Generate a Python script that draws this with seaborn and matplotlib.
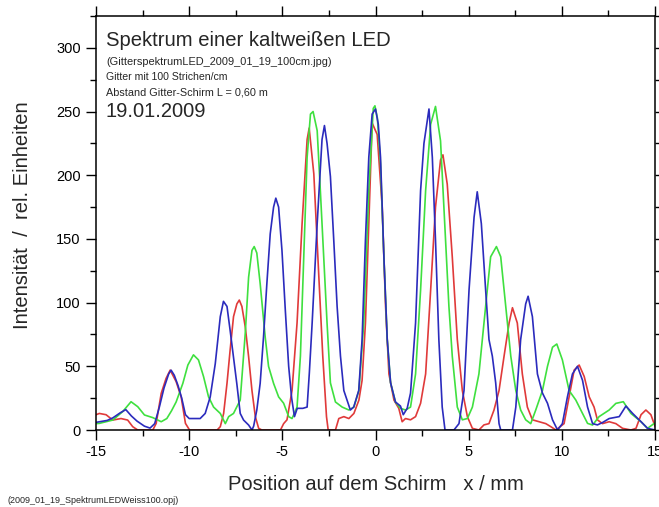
import matplotlib
matplotlib.use("Agg")
import matplotlib.pyplot as plt
from matplotlib.ticker import MultipleLocator
import seaborn as sns
import pandas as pd

# ---------------- data ----------------
blue_x = [-15.0, -14.8, -14.4, -14.1, -13.7, -13.4, -13.1, -12.8, -12.4, -12.1, -11.85, -11.6, -11.35,
          -11.1, -10.97, -10.8, -10.6, -10.4, -10.2, -10.0, -9.7, -9.41, -9.14, -8.87, -8.6, -8.33,
          -8.16, -7.97, -7.8, -7.62, -7.44, -7.26, -7.08, -6.81, -6.63, -6.54, -6.37, -6.19, -6.01,
          -5.83, -5.65, -5.47, -5.35, -5.2, -5.02, -4.84, -4.66, -4.5, -4.35, -4.2, -3.9, -3.67, -3.55,
          -3.40, -3.13, -2.87, -2.74, -2.6, -2.42, -2.24, -2.06, -1.88, -1.70, -1.52, -1.35, -1.17,
          -0.90, -0.72, -0.54, -0.36, -0.18, 0.0, 0.15, 0.27, 0.45, 0.63, 0.81, 1.07, 1.34, 1.49,
          1.70, 1.88, 2.15, 2.42, 2.60, 2.87, 3.05, 3.22, 3.40, 3.58, 3.73, 4.21, 4.48, 4.75, 5.02,
          5.29, 5.46, 5.68, 5.91, 6.09, 6.27, 6.45, 6.63, 6.72, 7.35, 7.53, 7.79, 8.06, 8.19, 8.42,
          8.69, 8.96, 9.23, 9.50, 9.77, 10.03, 10.30, 10.57, 10.84, 11.11, 11.38, 11.65, 11.91,
          12.2, 12.54, 13.08, 13.44, 13.8, 14.25, 14.6, 15.0]
blue_y = [6, 6.5, 7.5, 9.5, 13.5, 16, 11, 7, 3, 1.5, 5, 18, 33,
          44, 47, 43, 35, 25, 12, 9, 9, 9, 13, 26, 52, 89,
          101, 97, 78, 57, 36, 13, 7.8, 3.9, 0, 3, 15.7, 36.6, 73,
          115, 154, 175, 182, 175, 141, 94, 50, 25, 10.5, 17, 17, 18, 45,
          84, 162, 228, 239, 225, 199, 149, 97, 58, 31, 23, 15.7, 18,
          31, 71, 149, 214, 248, 252, 240, 214, 136, 71, 37, 22, 18.8, 12,
          17, 29, 84, 188, 225, 252, 214, 149, 71, 18, 0, 0, 5, 31, 110,
          167, 187, 162, 110, 71, 58, 37, 5, 0, 0, 18, 71, 99, 105, 89,
          44, 29, 21, 8, 0, 5, 26, 44, 50, 39, 18, 5, 4,
          6, 9, 10.5, 18.8, 13, 6.5, 1.3, 0]

green_x = [-15.0, -14.82, -14.1, -13.57, -13.12, -12.76, -12.4, -11.95, -11.5, -11.2, -10.95, -10.7,
           -10.34, -10.07, -9.77, -9.5, -9.23, -8.96, -8.69, -8.33, -8.06, -7.88, -7.62, -7.26, -6.99,
           -6.81, -6.63, -6.51, -6.37, -6.19, -5.92, -5.74, -5.47, -5.2, -4.93, -4.66, -4.48, -4.21,
           -4.03, -3.85, -3.67, -3.49, -3.35, -3.13, -2.96, -2.78, -2.6, -2.42, -2.15, -1.79, -1.43,
           -1.16, -0.89, -0.63, -0.36, -0.12, -0.03, 0.1, 0.27, 0.45, 0.63, 0.81, 1.07, 1.34, 1.61,
           1.88, 2.15, 2.42, 2.69, 2.96, 3.22, 3.49, 3.76, 3.94, 4.12, 4.39, 4.66, 4.93, 5.2, 5.55,
           5.91, 6.18, 6.49, 6.72, 6.99, 7.26, 7.53, 7.79, 8.06, 8.33, 8.60, 8.96, 9.23, 9.50, 9.73,
           10.03, 10.39, 10.75, 11.11, 11.38, 11.65, 12.0, 12.54, 12.9, 13.3, 13.71, 14.25, 14.6, 14.96]
green_y = [5, 5.2, 7.8, 14.4, 22.2, 18.3, 11.8, 9.7, 6.5, 9, 15, 22,
           36.6, 51, 59, 55, 42, 26, 18, 13, 5, 10.5, 13, 23.5, 76,
           120, 141, 144, 139, 115, 73, 50, 36.6, 26, 21, 10.5, 9, 18,
           58, 136, 214, 248, 250, 235, 188, 136, 84, 37, 22, 18, 15.7,
           18, 31, 84, 188, 252.5, 254.5, 245, 209, 136, 71, 37, 22, 17, 15.7,
           18, 44, 110, 188, 240, 254, 227, 149, 97, 58, 18, 8, 9, 18, 44,
           97, 136, 144, 136, 97, 58, 31, 15.7, 8, 5, 15.7, 31, 50, 65, 67.5,
           55, 31, 23.5, 13, 5.2, 3.9, 10.5, 15.7, 20.9, 22.2, 13, 6.5, 1.3, 5.2]

red_x = [-15.0, -14.82, -14.46, -14.1, -13.66, -13.3, -13.03, -12.76, -11.95, -11.77, -11.5, -11.24,
         -11.02, -10.7, -10.43, -10.2, -9.98, -8.5, -8.33, -8.15, -7.97, -7.8, -7.62, -7.44, -7.31,
         -7.17, -6.99, -6.81, -6.63, -6.45, -6.27, -6.1, -5.1, -4.93, -4.75, -4.48, -4.21, -3.94,
         -3.67, -3.56, -3.31, -3.05, -2.83, -2.63, -2.54, -2.15, -1.97, -1.70, -1.43, -1.16, -0.89,
         -0.72, -0.54, -0.36, -0.18, 0.09, 0.36, 0.54, 0.72, 0.99, 1.25, 1.43, 1.61, 1.88, 2.15,
         2.42, 2.69, 2.96, 3.22, 3.49, 3.62, 3.85, 4.12, 4.39, 4.66, 4.93, 5.2, 5.55, 5.82, 6.09,
         6.36, 6.63, 6.9, 7.17, 7.35, 7.61, 7.88, 8.15, 8.42, 8.78, 9.14, 9.41, 9.68, 10.12, 10.39,
         10.66, 10.93, 11.2, 11.47, 11.73, 11.91, 12.18, 12.54, 12.9, 13.26, 13.71, 13.98, 14.25,
         14.51, 14.78, 15.0]
red_y = [12, 13, 12, 7.8, 9, 7.8, 2.6, 0, 0, 5.2, 28.8, 40.5,
         47, 38, 26, 5.2, 0, 0, 2.6, 13, 36.6, 63, 89, 99, 102,
         97, 81, 57.6, 31, 10.5, 1.3, 0, 0, 5, 8, 31, 84, 162,
         228, 237, 201, 123, 58, 10.5, 0, 0, 9, 10.5, 9, 13, 23.5,
         39, 84, 162, 241, 232, 175, 97, 44, 23.5, 17, 6.5, 9, 8, 10.5,
         21, 44, 110, 175, 212, 216, 193, 136, 71, 31, 10.5, 1.3, 0, 4, 5,
         15.7, 31, 58, 84, 96, 84, 44, 18, 8, 6.5, 5, 2.6, 0, 5, 26,
         47, 51, 42, 26, 18, 8, 5, 6.5, 5, 1.3, 0, 1.3, 12,
         15.7, 12, 3]

x_ticks = [-15, -10, -5, 0, 5, 10, 15]
y_ticks = [0, 50, 100, 150, 200, 250, 300]

title_text = "Spektrum einer kaltweißen LED"
info_lines = ["(GitterspektrumLED_2009_01_19_100cm.jpg)",
              "Gitter mit 100 Strichen/cm",
              "Abstand Gitter-Schirm L = 0,60 m"]
date_text = "19.01.2009"
x_label = "Position auf dem Schirm   x / mm"
y_label = "Intensität  /  rel. Einheiten"
footnote = "(2009_01_19_SpektrumLEDWeiss100.opj)"

# ---------------- plotting ----------------
sns.set_style("ticks")
plt.rcParams["font.family"] = ["Liberation Sans", "DejaVu Sans"]

fig = plt.figure(figsize=(6.59, 5.07), dpi=100)
ax = fig.add_axes([0.14568, 0.15187, 0.84825, 0.81657])

series = [("rot", red_x, red_y, "#e03a3a"),
          ("grün", green_x, green_y, "#3fe03f"),
          ("blau", blue_x, blue_y, "#2b2bbd")]
for name, xs, ys, col in series:
    df = pd.DataFrame({"x": xs, "y": ys})
    sns.lineplot(data=df, x="x", y="y", ax=ax, color=col, linewidth=1.2,
                 sort=False, estimator=None, legend=False)

ax.set_xlim(-15, 15)
ax.set_ylim(0, 325)
ax.set_xticks(x_ticks)
ax.set_xticklabels([str(t) for t in x_ticks])
ax.set_yticks(y_ticks)
ax.set_yticklabels([str(t) for t in y_ticks])
ax.xaxis.set_minor_locator(MultipleLocator(2.5))
ax.yaxis.set_minor_locator(MultipleLocator(25))

for s in ax.spines.values():
    s.set_visible(True)
    s.set_linewidth(1.1)
    s.set_color("black")

ax.tick_params(which="both", direction="out", top=True, right=True,
               labeltop=False, labelright=False, colors="black", width=1.0)
ax.tick_params(which="major", length=7, labelsize=10.5, pad=4)
ax.tick_params(which="minor", length=4)
ax.tick_params(axis="x", which="major", pad=4)

ax.set_xlabel(x_label, fontsize=14.5, labelpad=11)
ax.set_ylabel(y_label, fontsize=14.5)
ax.yaxis.set_label_coords(-0.1145, 0.52)

fig.text(0.1608, 0.921, title_text, fontsize=14.6, va="center", ha="left")
fig.text(0.1608, 0.8777, info_lines[0], fontsize=7.9, va="center", ha="left")
fig.text(0.1608, 0.8481, info_lines[1], fontsize=7.6, va="center", ha="left")
fig.text(0.1608, 0.8166, info_lines[2], fontsize=7.8, va="center", ha="left")
fig.text(0.1608, 0.7791, date_text, fontsize=14.5, va="center", ha="left")
fig.text(0.012, 0.0138, footnote, fontsize=6.5, va="center", ha="left")

fig.savefig("out.png", dpi=100)
